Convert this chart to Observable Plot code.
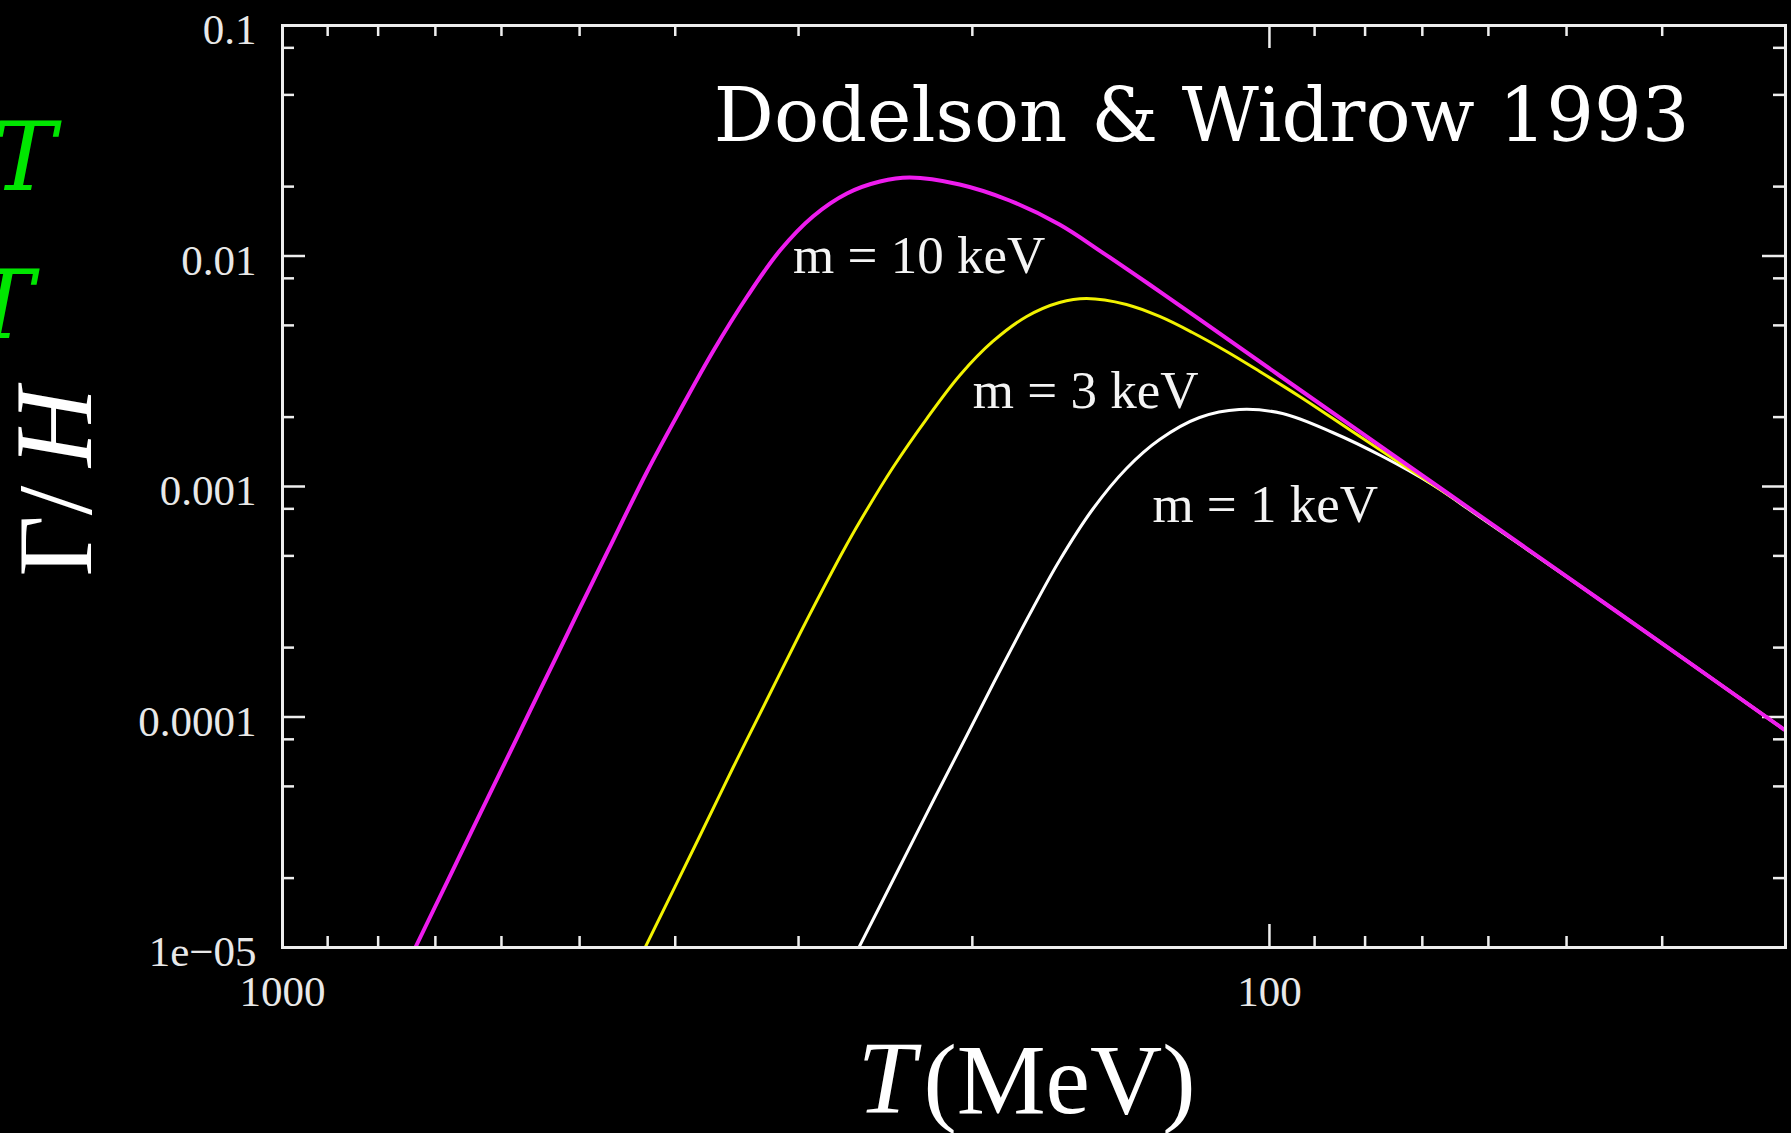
<!DOCTYPE html>
<html>
<head>
<meta charset="utf-8">
<script src="https://cdn.jsdelivr.net/npm/d3@7"></script>
<script src="https://cdn.jsdelivr.net/npm/@observablehq/plot@0.6"></script>
<style>
  html, body { margin: 0; padding: 0; background: #000; overflow: hidden; }
  #chart { width: 1791px; height: 1133px; }
</style>
</head>
<body>
<div id="chart"></div>
<script>
// ---- data (T in MeV, Gamma/H) ----
const m1T  = [260.6, 236.8, 219.3, 202.6, 187.7, 173.7, 163.2, 151.1, 139.6, 129.2, 117.7, 107.3, 97.0, 86.3, 76.8, 68.4, 61.3, 44.2, 30.1];
const m1V  = [1.0e-5, 2.246e-5, 4.299e-5, 8.310e-5, 1.576e-4, 2.957e-4, 4.775e-4, 7.947e-4, 1.197e-3, 1.599e-3, 1.992e-3, 2.158e-3, 2.073e-3, 1.715e-3, 1.349e-3, 1.020e-3, 7.411e-4, 2.812e-4, 8.824e-5];

const m3T  = [429.1, 377.5, 349.5, 322.9, 299.0, 287.4, 270.5, 260.0, 240.7, 222.4, 206.0, 190.7, 176.2, 163.2, 153.2, 139.6, 129.2, 119.7, 110.5, 102.3, 93.2, 83.0, 73.9, 65.7, 44.2, 30.1];
const m3V  = [1.0e-5, 3.062e-5, 6.037e-5, 1.191e-4, 2.303e-4, 3.202e-4, 5.224e-4, 7.049e-4, 1.209e-3, 1.972e-3, 3.031e-3, 4.257e-3, 5.465e-3, 6.286e-3, 6.542e-3, 6.161e-3, 5.465e-3, 4.657e-3, 3.852e-3, 3.154e-3, 2.457e-3, 1.767e-3, 1.271e-3, 9.140e-4, 2.812e-4, 8.824e-5];

const m10T = [733.5, 680.8, 630.4, 583.7, 539.2, 499.3, 467.8, 427.1, 395.6, 366.3, 338.2, 313.3, 290.1, 268.0, 248.1, 231.4, 206.0, 183.4, 163.2, 147.6, 132.3, 117.7, 97.7, 65.7, 44.2, 30.1];
const m10V = [1.0e-5, 1.933e-5, 3.814e-5, 7.521e-5, 1.514e-4, 2.986e-4, 5.278e-4, 1.162e-3, 2.137e-3, 3.852e-3, 6.673e-3, 1.056e-2, 1.484e-2, 1.867e-2, 2.104e-2, 2.190e-2, 2.042e-2, 1.741e-2, 1.370e-2, 1.035e-2, 7.521e-3, 5.304e-3, 3.031e-3, 9.232e-4, 2.812e-4, 8.824e-5];

const curveLabels = ["m = 1 keV", "m = 3 keV", "m = 10 keV"];
const labelT      = [131.4, 199.8, 303.9];
const labelV      = [7.0e-4, 2.18e-3, 8.4e-3];

const xTickValues = [1000, 100];
const xTickLabels = ["1000", "100"];
const xMinor      = [900, 800, 700, 600, 500, 400, 300, 200, 90, 80, 70, 60, 50, 40];
const yTickValues = [0.1, 0.01, 0.001, 0.0001, 0.00001];
const yTickLabels = ["0.1", "0.01", "0.001", "0.0001", "1e\u221205"];
const yMajorInner = [0.01, 0.001, 0.0001];
const yMinor      = [0.08, 0.05, 0.02, 0.008, 0.005, 0.002, 0.0008, 0.0005, 0.0002, 0.00008, 0.00005, 0.00002];

const title = "Dodelson & Widrow 1993";

// ---- tables built from the arrays ----
const toRows = (T, V) => T.map((t, i) => ({T: t, v: V[i]}));
const m1 = toRows(m1T, m1V), m3 = toRows(m3T, m3V), m10 = toRows(m10T, m10V);
const labels = curveLabels.map((s, i) => ({s, T: labelT[i], v: labelV[i]}));
const xTicks = xTickValues.map((v, i) => ({v, s: xTickLabels[i]}));
const yTicks = yTickValues.map((v, i) => ({v, s: yTickLabels[i]}));

const W = 1791, H = 1133, mL = 282, mR = 6, mT = 25, mB = 186;
const fw = W - mL - mR, fh = H - mT - mB;
const tickCol = "#eeeeee";
const serif = "'Liberation Serif', 'Times New Roman', serif";

const chart = Plot.plot({
  width: W, height: H,
  marginLeft: mL, marginRight: mR, marginTop: mT, marginBottom: mB,
  style: {background: "#000", color: "#fff", overflow: "visible"},
  x: {type: "log", domain: [1000, 30], axis: null},
  y: {type: "log", domain: [1e-5, 0.1], axis: null},
  marks: [
    // inner ticks: bottom / top
    Plot.tickX(xMinor, {x: d => d, stroke: tickCol, strokeWidth: 2.5, insetTop: fh - 11}),
    Plot.tickX(xMinor, {x: d => d, stroke: tickCol, strokeWidth: 2.5, insetBottom: fh - 11}),
    Plot.tickX([100], {x: d => d, stroke: tickCol, strokeWidth: 2.5, insetTop: fh - 23}),
    Plot.tickX([100], {x: d => d, stroke: tickCol, strokeWidth: 2.5, insetBottom: fh - 23}),
    // inner ticks: left / right
    Plot.tickY(yMinor, {y: d => d, stroke: tickCol, strokeWidth: 2.5, insetRight: fw - 12}),
    Plot.tickY(yMinor, {y: d => d, stroke: tickCol, strokeWidth: 2.5, insetLeft: fw - 12}),
    Plot.tickY(yMajorInner, {y: d => d, stroke: tickCol, strokeWidth: 2.5, insetRight: fw - 23}),
    Plot.tickY(yMajorInner, {y: d => d, stroke: tickCol, strokeWidth: 2.5, insetLeft: fw - 23}),
    // curves
    Plot.line(m1, {x: "T", y: "v", stroke: "#ffffff", strokeWidth: 3, curve: "catmull-rom", clip: true}),
    Plot.line(m3, {x: "T", y: "v", stroke: "#f2f200", strokeWidth: 3, curve: "catmull-rom", clip: true}),
    Plot.line(m10, {x: "T", y: "v", stroke: "#ee1cee", strokeWidth: 4, curve: "catmull-rom", clip: true}),
    // frame
    Plot.frame({stroke: tickCol, strokeWidth: 3}),
    // tick labels
    Plot.text(yTicks, {y: "v", text: "s", frameAnchor: "left", textAnchor: "end", dx: -26, dy: 5,
      fontSize: 43, fontFamily: serif, fill: "#e8e8e8"}),
    Plot.text(xTicks, {x: "v", text: "s", frameAnchor: "bottom", lineAnchor: "bottom", dy: 58,
      fontSize: 43, fontFamily: serif, fill: "#e8e8e8"}),
    // curve labels
    Plot.text(labels, {x: "T", y: "v", text: "s", textAnchor: "start", lineAnchor: "bottom",
      fontSize: 53, fontFamily: serif, fill: "#f4f4f4"}),
    // title
    Plot.text([title], {text: d => d, frameAnchor: "top-right", dx: -96, dy: 115, textAnchor: "end", lineAnchor: "bottom",
      fontSize: 75, fontFamily: "'DejaVu Serif', serif", fill: "#fff"}),
    // x axis label: T(MeV)
    Plot.text(["T"], {text: d => d, frameAnchor: "bottom-left", dx: 575, dy: 165, textAnchor: "start", lineAnchor: "bottom",
      fontSize: 104, fontStyle: "italic", fontFamily: serif, fill: "#fff"}),
    Plot.text(["(MeV)"], {text: d => d, frameAnchor: "bottom-left", dx: 913, dy: 165, textAnchor: "end", lineAnchor: "bottom",
      fontSize: 100, fontFamily: serif, fill: "#fff"}),
    // y axis label: Γ/H (rotated)
    Plot.text(["\u0393/"], {text: d => d, frameAnchor: "bottom-left", dx: -192, dy: -371, rotate: -90, textAnchor: "start", lineAnchor: "bottom",
      fontSize: 106, fontFamily: serif, fill: "#fff"}),
    Plot.text(["H"], {text: d => d, frameAnchor: "bottom-left", dx: -192, dy: -560, rotate: -90, textAnchor: "end", lineAnchor: "bottom",
      fontSize: 110, fontStyle: "italic", fontFamily: serif, fill: "#fff"}),
    // clipped green T glyphs at the left edge
    Plot.text(["T"], {text: d => d, frameAnchor: "top-left", dx: -290, dy: 164, textAnchor: "start", lineAnchor: "bottom",
      fontSize: 95, fontStyle: "italic", fontFamily: "'DejaVu Serif', serif", fill: "#00e600"}),
    Plot.text(["T"], {text: d => d, frameAnchor: "top-left", dx: -312, dy: 312, textAnchor: "start", lineAnchor: "bottom",
      fontSize: 95, fontStyle: "italic", fontFamily: "'DejaVu Serif', serif", fill: "#00e600"})
  ]
});
document.getElementById("chart").appendChild(chart);
</script>
</body>
</html>
